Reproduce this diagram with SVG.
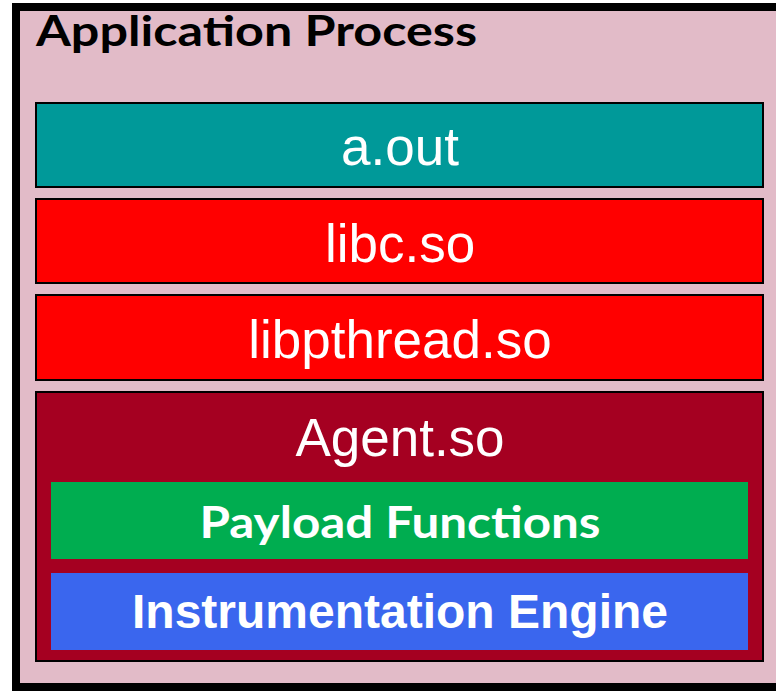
<svg xmlns="http://www.w3.org/2000/svg" width="776" height="691" viewBox="0 0 776 691">
  <style>
    .layer { stroke: #000000; stroke-width: 2; }
    .lbl { font-family: "Liberation Sans", Arial, sans-serif; fill: #ffffff; text-anchor: middle; }
    .gill { font-family: Lato, "Open Sans", sans-serif; font-weight: bold; }
  </style>
  <rect width="776" height="691" fill="#ffffff"/>

  <!-- process container -->
  <g id="process">
    <rect x="16" y="7" width="772" height="680" fill="#E2BBC8" stroke="#000000" stroke-width="8"/>
    <text class="gill" x="36" y="46" font-size="42" fill="#000000" textLength="441" lengthAdjust="spacingAndGlyphs">Application Process</text>
  </g>

  <g id="aout">
    <rect class="layer" x="36" y="103" width="727" height="84" fill="#009999"/>
    <text class="lbl" x="400" y="165" font-size="53">a.out</text>
  </g>

  <g id="libc">
    <rect class="layer" x="36" y="199" width="727" height="84" fill="#FF0000"/>
    <text class="lbl" x="400" y="262" font-size="53">libc.so</text>
  </g>

  <g id="libpthread">
    <rect class="layer" x="36" y="295" width="727" height="85" fill="#FF0000"/>
    <text class="lbl" x="400" y="358" font-size="53">libpthread.so</text>
  </g>

  <g id="agent">
    <rect class="layer" x="36" y="392" width="727" height="269" fill="#A50021"/>
    <text class="lbl" x="400" y="456" font-size="53">Agent.so</text>
  </g>

  <g id="payload">
    <rect x="51" y="482" width="697" height="77" fill="#00AD50"/>
    <text class="gill" x="400" y="538" font-size="43" fill="#ffffff" text-anchor="middle" textLength="401" lengthAdjust="spacingAndGlyphs">Payload Functions</text>
  </g>

  <g id="engine">
    <rect x="51" y="573" width="697" height="77" fill="#3A66EE"/>
    <text class="lbl" x="400" y="628" font-size="48" font-weight="bold">Instrumentation Engine</text>
  </g>

  <g id="connectors"/>
</svg>
